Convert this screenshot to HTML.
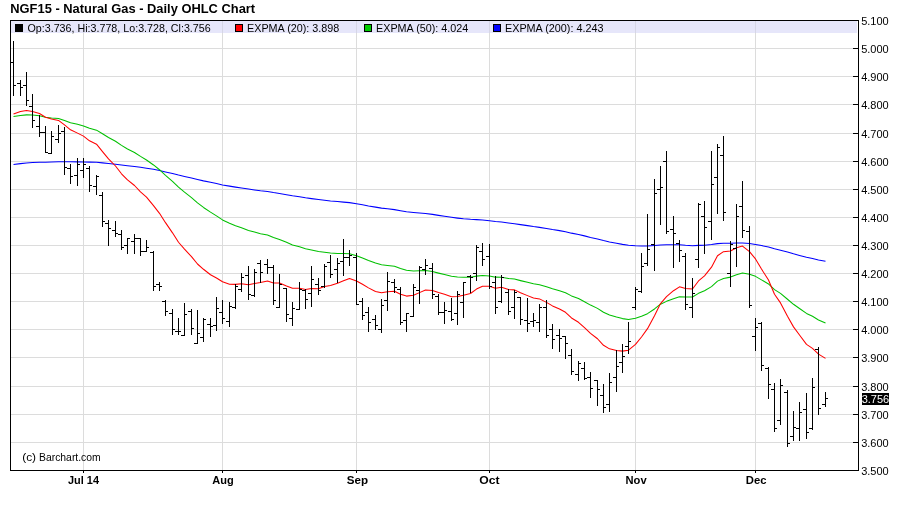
<!DOCTYPE html>
<html><head><meta charset="utf-8"><title>NGF15 - Natural Gas - Daily OHLC Chart</title>
<style>html,body{margin:0;padding:0;background:#fff;}svg{display:block;will-change:transform;}text{font-family:"Liberation Sans",sans-serif;}</style>
</head><body>
<svg width="900" height="511" viewBox="0 0 900 511">
<rect x="0" y="0" width="900" height="511" fill="#ffffff"/>
<g shape-rendering="crispEdges">
<rect x="11" y="21" width="846" height="12" fill="#e6e6fa"/>
<rect x="11" y="48" width="847" height="1" fill="#dcdcdc"/>
<rect x="11" y="76" width="847" height="1" fill="#dcdcdc"/>
<rect x="11" y="104" width="847" height="1" fill="#dcdcdc"/>
<rect x="11" y="133" width="847" height="1" fill="#dcdcdc"/>
<rect x="11" y="161" width="847" height="1" fill="#dcdcdc"/>
<rect x="11" y="189" width="847" height="1" fill="#dcdcdc"/>
<rect x="11" y="217" width="847" height="1" fill="#dcdcdc"/>
<rect x="11" y="245" width="847" height="1" fill="#dcdcdc"/>
<rect x="11" y="273" width="847" height="1" fill="#dcdcdc"/>
<rect x="11" y="301" width="847" height="1" fill="#dcdcdc"/>
<rect x="11" y="329" width="847" height="1" fill="#dcdcdc"/>
<rect x="11" y="357" width="847" height="1" fill="#dcdcdc"/>
<rect x="11" y="386" width="847" height="1" fill="#dcdcdc"/>
<rect x="11" y="414" width="847" height="1" fill="#dcdcdc"/>
<rect x="11" y="442" width="847" height="1" fill="#dcdcdc"/>
<rect x="83" y="33" width="1" height="437" fill="#dcdcdc"/>
<rect x="83" y="21" width="1" height="12" fill="#d6d6e6"/>
<rect x="222" y="33" width="1" height="437" fill="#dcdcdc"/>
<rect x="222" y="21" width="1" height="12" fill="#d6d6e6"/>
<rect x="356" y="33" width="1" height="437" fill="#dcdcdc"/>
<rect x="356" y="21" width="1" height="12" fill="#d6d6e6"/>
<rect x="489" y="33" width="1" height="437" fill="#dcdcdc"/>
<rect x="489" y="21" width="1" height="12" fill="#d6d6e6"/>
<rect x="635" y="33" width="1" height="437" fill="#dcdcdc"/>
<rect x="635" y="21" width="1" height="12" fill="#d6d6e6"/>
<rect x="755" y="33" width="1" height="437" fill="#dcdcdc"/>
<rect x="755" y="21" width="1" height="12" fill="#d6d6e6"/>
<rect x="10" y="20" width="849" height="1" fill="#000"/>
<rect x="10" y="470" width="849" height="1" fill="#000"/>
<rect x="10" y="20" width="1" height="451" fill="#000"/>
<rect x="858" y="20" width="1" height="451" fill="#000"/>
<rect x="853" y="48" width="5" height="1" fill="#000"/>
<rect x="853" y="76" width="5" height="1" fill="#000"/>
<rect x="853" y="104" width="5" height="1" fill="#000"/>
<rect x="853" y="133" width="5" height="1" fill="#000"/>
<rect x="853" y="161" width="5" height="1" fill="#000"/>
<rect x="853" y="189" width="5" height="1" fill="#000"/>
<rect x="853" y="217" width="5" height="1" fill="#000"/>
<rect x="853" y="245" width="5" height="1" fill="#000"/>
<rect x="853" y="273" width="5" height="1" fill="#000"/>
<rect x="853" y="301" width="5" height="1" fill="#000"/>
<rect x="853" y="329" width="5" height="1" fill="#000"/>
<rect x="853" y="357" width="5" height="1" fill="#000"/>
<rect x="853" y="386" width="5" height="1" fill="#000"/>
<rect x="853" y="414" width="5" height="1" fill="#000"/>
<rect x="853" y="442" width="5" height="1" fill="#000"/>
<rect x="83" y="471" width="1" height="2" fill="#000"/>
<rect x="222" y="471" width="1" height="2" fill="#000"/>
<rect x="356" y="471" width="1" height="2" fill="#000"/>
<rect x="489" y="471" width="1" height="2" fill="#000"/>
<rect x="635" y="471" width="1" height="2" fill="#000"/>
<rect x="755" y="471" width="1" height="2" fill="#000"/>
</g>
<path d="M13.5,164.40 L20.5,163.63 L26.5,163.01 L32.5,162.58 L39.5,162.28 L45.5,162.19 L51.5,161.93 L58.5,161.65 L64.5,161.71 L70.5,161.85 L77.5,161.88 L83.5,161.91 L89.5,162.14 L96.5,162.28 L102.5,162.87 L108.5,163.53 L115.5,164.22 L121.5,165.05 L127.5,165.78 L134.5,166.51 L140.5,167.35 L146.5,168.15 L153.5,169.33 L159.5,170.49 L165.5,171.90 L172.5,173.46 L178.5,175.04 L184.5,176.42 L191.5,177.94 L197.5,179.48 L203.5,180.88 L210.5,182.33 L216.5,183.58 L222.5,184.92 L229.5,186.13 L235.5,187.13 L241.5,188.03 L248.5,189.09 L254.5,189.92 L260.5,190.74 L267.5,191.51 L273.5,192.59 L279.5,193.51 L286.5,194.71 L292.5,195.84 L299.5,196.77 L305.5,197.80 L311.5,198.61 L318.5,199.52 L324.5,200.19 L330.5,200.93 L337.5,201.55 L343.5,202.11 L349.5,202.64 L356.5,203.65 L362.5,204.77 L368.5,205.94 L375.5,207.13 L381.5,208.11 L387.5,208.84 L394.5,209.62 L400.5,210.74 L406.5,211.77 L413.5,212.52 L419.5,213.07 L425.5,213.59 L432.5,214.39 L438.5,215.37 L444.5,216.32 L451.5,217.34 L457.5,218.11 L463.5,218.75 L470.5,219.34 L476.5,219.62 L482.5,220.01 L489.5,220.67 L495.5,221.54 L501.5,222.09 L508.5,222.98 L514.5,223.68 L520.5,224.63 L527.5,225.61 L533.5,226.56 L539.5,227.36 L546.5,228.44 L552.5,229.54 L559.5,230.63 L565.5,231.75 L571.5,233.14 L578.5,234.44 L584.5,235.87 L590.5,237.39 L597.5,238.90 L603.5,240.58 L609.5,241.99 L616.5,243.23 L622.5,244.36 L628.5,245.33 L635.5,245.77 L641.5,245.97 L647.5,246.01 L654.5,245.48 L660.5,244.91 L666.5,244.77 L673.5,244.66 L679.5,244.72 L685.5,245.32 L692.5,245.79 L698.5,245.38 L704.5,245.21 L711.5,244.60 L717.5,243.64 L723.5,243.33 L730.5,243.34 L736.5,243.07 L742.5,242.95 L749.5,243.57 L755.5,244.40 L761.5,245.61 L768.5,246.99 L774.5,248.80 L780.5,250.16 L787.5,252.08 L793.5,253.83 L799.5,255.40 L806.5,257.17 L812.5,258.46 L818.5,259.96 L825.5,261.33" fill="none" stroke="#0000ff" stroke-width="1.05" stroke-linejoin="round"/>
<path d="M13.5,116.60 L20.5,115.46 L26.5,114.87 L32.5,115.09 L39.5,115.78 L45.5,117.22 L51.5,117.97 L58.5,118.58 L64.5,120.50 L70.5,122.70 L77.5,124.33 L83.5,125.91 L89.5,128.25 L96.5,130.14 L102.5,133.72 L108.5,137.44 L115.5,141.21 L121.5,145.37 L127.5,149.03 L134.5,152.53 L140.5,156.42 L146.5,159.99 L153.5,164.95 L159.5,169.72 L165.5,175.28 L172.5,181.32 L178.5,187.21 L184.5,192.20 L191.5,197.55 L197.5,202.88 L203.5,207.45 L210.5,212.12 L216.5,215.90 L222.5,219.93 L229.5,223.32 L235.5,225.80 L241.5,227.83 L248.5,230.44 L254.5,232.09 L260.5,233.67 L267.5,235.00 L273.5,237.57 L279.5,239.41 L286.5,242.35 L292.5,244.95 L299.5,246.70 L305.5,248.77 L311.5,249.97 L318.5,251.56 L324.5,252.15 L330.5,253.02 L337.5,253.43 L343.5,253.59 L349.5,253.67 L356.5,255.66 L362.5,258.01 L368.5,260.54 L375.5,263.09 L381.5,264.75 L387.5,265.41 L394.5,266.27 L400.5,268.48 L406.5,270.24 L413.5,270.92 L419.5,270.79 L425.5,270.58 L432.5,271.52 L438.5,273.12 L444.5,274.59 L451.5,276.35 L457.5,277.06 L463.5,277.28 L470.5,277.28 L476.5,276.12 L482.5,275.46 L489.5,275.90 L495.5,277.14 L501.5,277.15 L508.5,278.50 L514.5,279.05 L520.5,280.63 L527.5,282.31 L533.5,283.81 L539.5,284.74 L546.5,286.73 L552.5,288.80 L559.5,290.75 L565.5,292.82 L571.5,295.90 L578.5,298.55 L584.5,301.69 L590.5,305.09 L597.5,308.40 L603.5,312.29 L609.5,315.04 L616.5,317.06 L622.5,318.61 L628.5,319.51 L635.5,318.33 L641.5,316.30 L647.5,313.68 L654.5,308.96 L660.5,304.20 L666.5,301.35 L673.5,298.69 L679.5,296.80 L685.5,297.10 L692.5,296.96 L698.5,293.33 L704.5,290.75 L711.5,286.59 L717.5,281.13 L723.5,278.44 L730.5,277.11 L736.5,274.73 L742.5,273.00 L749.5,274.27 L755.5,276.36 L761.5,279.86 L768.5,283.96 L774.5,289.63 L780.5,293.39 L787.5,299.27 L793.5,304.30 L799.5,308.55 L806.5,313.41 L812.5,316.31 L818.5,319.93 L825.5,323.01" fill="none" stroke="#00c000" stroke-width="1.05" stroke-linejoin="round"/>
<path d="M13.5,114.10 L20.5,111.57 L26.5,110.51 L32.5,111.46 L39.5,113.47 L45.5,117.18 L51.5,119.02 L58.5,120.40 L64.5,124.89 L70.5,129.80 L77.5,133.11 L83.5,136.10 L89.5,140.80 L96.5,144.20 L102.5,151.56 L108.5,158.89 L115.5,166.00 L121.5,173.76 L127.5,179.92 L134.5,185.50 L140.5,191.79 L146.5,197.09 L153.5,205.61 L159.5,213.31 L165.5,222.66 L172.5,232.84 L178.5,242.24 L184.5,249.12 L191.5,256.68 L197.5,263.99 L203.5,269.28 L210.5,274.73 L216.5,277.95 L222.5,281.81 L229.5,284.16 L235.5,284.38 L241.5,283.73 L248.5,284.75 L254.5,283.59 L260.5,282.53 L267.5,281.10 L273.5,282.95 L279.5,283.09 L286.5,286.09 L292.5,288.22 L299.5,288.34 L305.5,289.40 L311.5,288.46 L318.5,288.66 L324.5,286.55 L330.5,285.40 L337.5,283.31 L343.5,280.85 L349.5,278.44 L356.5,280.92 L362.5,284.21 L368.5,287.86 L375.5,291.45 L381.5,292.78 L387.5,291.71 L394.5,291.31 L400.5,294.28 L406.5,296.11 L413.5,295.29 L419.5,292.64 L425.5,290.06 L432.5,290.48 L438.5,292.58 L444.5,294.29 L451.5,296.69 L457.5,296.48 L463.5,295.15 L470.5,293.47 L476.5,289.09 L482.5,286.27 L489.5,286.29 L495.5,288.31 L501.5,287.28 L508.5,289.59 L514.5,289.87 L520.5,292.69 L527.5,295.62 L533.5,297.99 L539.5,298.90 L546.5,302.38 L552.5,305.92 L559.5,309.02 L565.5,312.31 L571.5,317.94 L578.5,322.28 L584.5,327.64 L590.5,333.43 L597.5,338.77 L603.5,345.32 L609.5,348.86 L616.5,350.54 L622.5,351.11 L628.5,350.19 L635.5,344.41 L641.5,336.99 L647.5,328.66 L654.5,315.79 L660.5,303.57 L666.5,296.71 L673.5,290.69 L679.5,286.86 L685.5,288.54 L692.5,289.01 L698.5,280.96 L704.5,275.87 L711.5,267.17 L717.5,255.77 L723.5,251.65 L730.5,250.97 L736.5,247.69 L742.5,246.05 L749.5,251.71 L755.5,258.93 L761.5,269.08 L768.5,280.07 L774.5,294.21 L780.5,302.90 L787.5,316.29 L793.5,326.88 L799.5,335.04 L806.5,344.32 L812.5,348.43 L818.5,354.15 L825.5,358.38" fill="none" stroke="#ff0000" stroke-width="1.05" stroke-linejoin="round"/>
<g shape-rendering="crispEdges">
<rect x="13" y="41" width="1" height="55" fill="#000"/>
<rect x="10" y="62" width="3" height="1" fill="#000"/>
<rect x="14" y="85" width="2" height="1" fill="#000"/>
<rect x="20" y="80" width="1" height="16" fill="#000"/>
<rect x="17" y="83" width="3" height="1" fill="#000"/>
<rect x="21" y="87" width="2" height="1" fill="#000"/>
<rect x="26" y="72" width="1" height="34" fill="#000"/>
<rect x="23" y="85" width="3" height="1" fill="#000"/>
<rect x="27" y="100" width="2" height="1" fill="#000"/>
<rect x="32" y="94" width="1" height="34" fill="#000"/>
<rect x="29" y="106" width="3" height="1" fill="#000"/>
<rect x="33" y="120" width="2" height="1" fill="#000"/>
<rect x="39" y="115" width="1" height="22" fill="#000"/>
<rect x="36" y="126" width="3" height="1" fill="#000"/>
<rect x="40" y="132" width="2" height="1" fill="#000"/>
<rect x="45" y="126" width="1" height="27" fill="#000"/>
<rect x="42" y="132" width="3" height="1" fill="#000"/>
<rect x="46" y="152" width="2" height="1" fill="#000"/>
<rect x="51" y="131" width="1" height="23" fill="#000"/>
<rect x="48" y="153" width="3" height="1" fill="#000"/>
<rect x="52" y="136" width="2" height="1" fill="#000"/>
<rect x="58" y="125" width="1" height="18" fill="#000"/>
<rect x="55" y="139" width="3" height="1" fill="#000"/>
<rect x="59" y="133" width="2" height="1" fill="#000"/>
<rect x="64" y="127" width="1" height="48" fill="#000"/>
<rect x="61" y="131" width="3" height="1" fill="#000"/>
<rect x="65" y="167" width="2" height="1" fill="#000"/>
<rect x="70" y="164" width="1" height="20" fill="#000"/>
<rect x="67" y="168" width="3" height="1" fill="#000"/>
<rect x="71" y="176" width="2" height="1" fill="#000"/>
<rect x="77" y="158" width="1" height="28" fill="#000"/>
<rect x="74" y="175" width="3" height="1" fill="#000"/>
<rect x="78" y="164" width="2" height="1" fill="#000"/>
<rect x="83" y="158" width="1" height="20" fill="#000"/>
<rect x="80" y="170" width="3" height="1" fill="#000"/>
<rect x="84" y="164" width="2" height="1" fill="#000"/>
<rect x="89" y="166" width="1" height="26" fill="#000"/>
<rect x="86" y="168" width="3" height="1" fill="#000"/>
<rect x="90" y="185" width="2" height="1" fill="#000"/>
<rect x="96" y="175" width="1" height="20" fill="#000"/>
<rect x="93" y="186" width="3" height="1" fill="#000"/>
<rect x="97" y="176" width="2" height="1" fill="#000"/>
<rect x="102" y="192" width="1" height="35" fill="#000"/>
<rect x="99" y="195" width="3" height="1" fill="#000"/>
<rect x="103" y="221" width="2" height="1" fill="#000"/>
<rect x="108" y="220" width="1" height="26" fill="#000"/>
<rect x="105" y="223" width="3" height="1" fill="#000"/>
<rect x="109" y="228" width="2" height="1" fill="#000"/>
<rect x="115" y="221" width="1" height="16" fill="#000"/>
<rect x="112" y="230" width="3" height="1" fill="#000"/>
<rect x="116" y="233" width="2" height="1" fill="#000"/>
<rect x="121" y="230" width="1" height="20" fill="#000"/>
<rect x="118" y="234" width="3" height="1" fill="#000"/>
<rect x="122" y="247" width="2" height="1" fill="#000"/>
<rect x="127" y="238" width="1" height="16" fill="#000"/>
<rect x="124" y="245" width="3" height="1" fill="#000"/>
<rect x="128" y="238" width="2" height="1" fill="#000"/>
<rect x="134" y="234" width="1" height="20" fill="#000"/>
<rect x="131" y="241" width="3" height="1" fill="#000"/>
<rect x="135" y="238" width="2" height="1" fill="#000"/>
<rect x="140" y="238" width="1" height="18" fill="#000"/>
<rect x="137" y="238" width="3" height="1" fill="#000"/>
<rect x="141" y="251" width="2" height="1" fill="#000"/>
<rect x="146" y="240" width="1" height="12" fill="#000"/>
<rect x="143" y="251" width="3" height="1" fill="#000"/>
<rect x="147" y="247" width="2" height="1" fill="#000"/>
<rect x="153" y="251" width="1" height="40" fill="#000"/>
<rect x="150" y="252" width="3" height="1" fill="#000"/>
<rect x="154" y="286" width="2" height="1" fill="#000"/>
<rect x="159" y="282" width="1" height="9" fill="#000"/>
<rect x="156" y="284" width="3" height="1" fill="#000"/>
<rect x="160" y="286" width="2" height="1" fill="#000"/>
<rect x="165" y="300" width="1" height="16" fill="#000"/>
<rect x="162" y="301" width="3" height="1" fill="#000"/>
<rect x="166" y="311" width="2" height="1" fill="#000"/>
<rect x="172" y="309" width="1" height="26" fill="#000"/>
<rect x="169" y="313" width="3" height="1" fill="#000"/>
<rect x="173" y="329" width="2" height="1" fill="#000"/>
<rect x="178" y="318" width="1" height="17" fill="#000"/>
<rect x="175" y="331" width="3" height="1" fill="#000"/>
<rect x="179" y="331" width="2" height="1" fill="#000"/>
<rect x="184" y="303" width="1" height="33" fill="#000"/>
<rect x="181" y="335" width="3" height="1" fill="#000"/>
<rect x="185" y="314" width="2" height="1" fill="#000"/>
<rect x="191" y="309" width="1" height="26" fill="#000"/>
<rect x="188" y="311" width="3" height="1" fill="#000"/>
<rect x="192" y="328" width="2" height="1" fill="#000"/>
<rect x="197" y="310" width="1" height="34" fill="#000"/>
<rect x="194" y="343" width="3" height="1" fill="#000"/>
<rect x="198" y="333" width="2" height="1" fill="#000"/>
<rect x="203" y="318" width="1" height="24" fill="#000"/>
<rect x="200" y="337" width="3" height="1" fill="#000"/>
<rect x="204" y="319" width="2" height="1" fill="#000"/>
<rect x="210" y="318" width="1" height="19" fill="#000"/>
<rect x="207" y="324" width="3" height="1" fill="#000"/>
<rect x="211" y="326" width="2" height="1" fill="#000"/>
<rect x="216" y="297" width="1" height="34" fill="#000"/>
<rect x="213" y="325" width="3" height="1" fill="#000"/>
<rect x="217" y="308" width="2" height="1" fill="#000"/>
<rect x="222" y="300" width="1" height="24" fill="#000"/>
<rect x="219" y="312" width="3" height="1" fill="#000"/>
<rect x="223" y="318" width="2" height="1" fill="#000"/>
<rect x="229" y="302" width="1" height="25" fill="#000"/>
<rect x="226" y="321" width="3" height="1" fill="#000"/>
<rect x="230" y="306" width="2" height="1" fill="#000"/>
<rect x="235" y="284" width="1" height="25" fill="#000"/>
<rect x="232" y="307" width="3" height="1" fill="#000"/>
<rect x="236" y="286" width="2" height="1" fill="#000"/>
<rect x="241" y="273" width="1" height="19" fill="#000"/>
<rect x="238" y="289" width="3" height="1" fill="#000"/>
<rect x="242" y="277" width="2" height="1" fill="#000"/>
<rect x="248" y="266" width="1" height="34" fill="#000"/>
<rect x="245" y="275" width="3" height="1" fill="#000"/>
<rect x="249" y="294" width="2" height="1" fill="#000"/>
<rect x="254" y="269" width="1" height="28" fill="#000"/>
<rect x="251" y="295" width="3" height="1" fill="#000"/>
<rect x="255" y="272" width="2" height="1" fill="#000"/>
<rect x="260" y="260" width="1" height="23" fill="#000"/>
<rect x="257" y="263" width="3" height="1" fill="#000"/>
<rect x="261" y="272" width="2" height="1" fill="#000"/>
<rect x="267" y="259" width="1" height="15" fill="#000"/>
<rect x="264" y="264" width="3" height="1" fill="#000"/>
<rect x="268" y="267" width="2" height="1" fill="#000"/>
<rect x="273" y="265" width="1" height="40" fill="#000"/>
<rect x="270" y="267" width="3" height="1" fill="#000"/>
<rect x="274" y="300" width="2" height="1" fill="#000"/>
<rect x="279" y="274" width="1" height="34" fill="#000"/>
<rect x="276" y="307" width="3" height="1" fill="#000"/>
<rect x="280" y="284" width="2" height="1" fill="#000"/>
<rect x="286" y="288" width="1" height="34" fill="#000"/>
<rect x="283" y="288" width="3" height="1" fill="#000"/>
<rect x="287" y="314" width="2" height="1" fill="#000"/>
<rect x="292" y="302" width="1" height="24" fill="#000"/>
<rect x="289" y="318" width="3" height="1" fill="#000"/>
<rect x="293" y="308" width="2" height="1" fill="#000"/>
<rect x="299" y="282" width="1" height="28" fill="#000"/>
<rect x="296" y="309" width="3" height="1" fill="#000"/>
<rect x="300" y="289" width="2" height="1" fill="#000"/>
<rect x="305" y="289" width="1" height="20" fill="#000"/>
<rect x="302" y="290" width="3" height="1" fill="#000"/>
<rect x="306" y="299" width="2" height="1" fill="#000"/>
<rect x="311" y="266" width="1" height="41" fill="#000"/>
<rect x="308" y="293" width="3" height="1" fill="#000"/>
<rect x="312" y="279" width="2" height="1" fill="#000"/>
<rect x="318" y="278" width="1" height="17" fill="#000"/>
<rect x="315" y="284" width="3" height="1" fill="#000"/>
<rect x="319" y="290" width="2" height="1" fill="#000"/>
<rect x="324" y="264" width="1" height="24" fill="#000"/>
<rect x="321" y="286" width="3" height="1" fill="#000"/>
<rect x="325" y="266" width="2" height="1" fill="#000"/>
<rect x="330" y="255" width="1" height="23" fill="#000"/>
<rect x="327" y="262" width="3" height="1" fill="#000"/>
<rect x="331" y="274" width="2" height="1" fill="#000"/>
<rect x="337" y="258" width="1" height="25" fill="#000"/>
<rect x="334" y="269" width="3" height="1" fill="#000"/>
<rect x="338" y="263" width="2" height="1" fill="#000"/>
<rect x="343" y="239" width="1" height="37" fill="#000"/>
<rect x="340" y="261" width="3" height="1" fill="#000"/>
<rect x="344" y="257" width="2" height="1" fill="#000"/>
<rect x="349" y="250" width="1" height="16" fill="#000"/>
<rect x="346" y="257" width="3" height="1" fill="#000"/>
<rect x="350" y="255" width="2" height="1" fill="#000"/>
<rect x="356" y="253" width="1" height="52" fill="#000"/>
<rect x="353" y="257" width="3" height="1" fill="#000"/>
<rect x="357" y="304" width="2" height="1" fill="#000"/>
<rect x="362" y="298" width="1" height="22" fill="#000"/>
<rect x="359" y="301" width="3" height="1" fill="#000"/>
<rect x="363" y="315" width="2" height="1" fill="#000"/>
<rect x="368" y="307" width="1" height="25" fill="#000"/>
<rect x="365" y="312" width="3" height="1" fill="#000"/>
<rect x="369" y="322" width="2" height="1" fill="#000"/>
<rect x="375" y="315" width="1" height="15" fill="#000"/>
<rect x="372" y="319" width="3" height="1" fill="#000"/>
<rect x="376" y="325" width="2" height="1" fill="#000"/>
<rect x="381" y="299" width="1" height="34" fill="#000"/>
<rect x="378" y="329" width="3" height="1" fill="#000"/>
<rect x="382" y="305" width="2" height="1" fill="#000"/>
<rect x="387" y="272" width="1" height="39" fill="#000"/>
<rect x="384" y="300" width="3" height="1" fill="#000"/>
<rect x="388" y="281" width="2" height="1" fill="#000"/>
<rect x="394" y="279" width="1" height="14" fill="#000"/>
<rect x="391" y="282" width="3" height="1" fill="#000"/>
<rect x="395" y="287" width="2" height="1" fill="#000"/>
<rect x="400" y="287" width="1" height="38" fill="#000"/>
<rect x="397" y="289" width="3" height="1" fill="#000"/>
<rect x="401" y="322" width="2" height="1" fill="#000"/>
<rect x="406" y="313" width="1" height="19" fill="#000"/>
<rect x="403" y="320" width="3" height="1" fill="#000"/>
<rect x="407" y="313" width="2" height="1" fill="#000"/>
<rect x="413" y="284" width="1" height="33" fill="#000"/>
<rect x="410" y="316" width="3" height="1" fill="#000"/>
<rect x="414" y="287" width="2" height="1" fill="#000"/>
<rect x="419" y="266" width="1" height="38" fill="#000"/>
<rect x="416" y="290" width="3" height="1" fill="#000"/>
<rect x="420" y="267" width="2" height="1" fill="#000"/>
<rect x="425" y="259" width="1" height="16" fill="#000"/>
<rect x="422" y="269" width="3" height="1" fill="#000"/>
<rect x="426" y="265" width="2" height="1" fill="#000"/>
<rect x="432" y="263" width="1" height="36" fill="#000"/>
<rect x="429" y="268" width="3" height="1" fill="#000"/>
<rect x="433" y="294" width="2" height="1" fill="#000"/>
<rect x="438" y="294" width="1" height="21" fill="#000"/>
<rect x="435" y="296" width="3" height="1" fill="#000"/>
<rect x="439" y="312" width="2" height="1" fill="#000"/>
<rect x="444" y="302" width="1" height="22" fill="#000"/>
<rect x="441" y="312" width="3" height="1" fill="#000"/>
<rect x="445" y="310" width="2" height="1" fill="#000"/>
<rect x="451" y="298" width="1" height="23" fill="#000"/>
<rect x="448" y="311" width="3" height="1" fill="#000"/>
<rect x="452" y="319" width="2" height="1" fill="#000"/>
<rect x="457" y="291" width="1" height="34" fill="#000"/>
<rect x="454" y="313" width="3" height="1" fill="#000"/>
<rect x="458" y="294" width="2" height="1" fill="#000"/>
<rect x="463" y="282" width="1" height="36" fill="#000"/>
<rect x="460" y="302" width="3" height="1" fill="#000"/>
<rect x="464" y="282" width="2" height="1" fill="#000"/>
<rect x="470" y="275" width="1" height="18" fill="#000"/>
<rect x="467" y="276" width="3" height="1" fill="#000"/>
<rect x="471" y="277" width="2" height="1" fill="#000"/>
<rect x="476" y="245" width="1" height="36" fill="#000"/>
<rect x="473" y="273" width="3" height="1" fill="#000"/>
<rect x="477" y="247" width="2" height="1" fill="#000"/>
<rect x="482" y="243" width="1" height="23" fill="#000"/>
<rect x="479" y="251" width="3" height="1" fill="#000"/>
<rect x="483" y="259" width="2" height="1" fill="#000"/>
<rect x="489" y="244" width="1" height="45" fill="#000"/>
<rect x="486" y="256" width="3" height="1" fill="#000"/>
<rect x="490" y="286" width="2" height="1" fill="#000"/>
<rect x="495" y="276" width="1" height="38" fill="#000"/>
<rect x="492" y="282" width="3" height="1" fill="#000"/>
<rect x="496" y="307" width="2" height="1" fill="#000"/>
<rect x="501" y="275" width="1" height="28" fill="#000"/>
<rect x="498" y="301" width="3" height="1" fill="#000"/>
<rect x="502" y="277" width="2" height="1" fill="#000"/>
<rect x="508" y="289" width="1" height="26" fill="#000"/>
<rect x="505" y="292" width="3" height="1" fill="#000"/>
<rect x="509" y="311" width="2" height="1" fill="#000"/>
<rect x="514" y="290" width="1" height="29" fill="#000"/>
<rect x="511" y="307" width="3" height="1" fill="#000"/>
<rect x="515" y="292" width="2" height="1" fill="#000"/>
<rect x="520" y="297" width="1" height="28" fill="#000"/>
<rect x="517" y="297" width="3" height="1" fill="#000"/>
<rect x="521" y="319" width="2" height="1" fill="#000"/>
<rect x="527" y="298" width="1" height="34" fill="#000"/>
<rect x="524" y="320" width="3" height="1" fill="#000"/>
<rect x="528" y="323" width="2" height="1" fill="#000"/>
<rect x="533" y="313" width="1" height="14" fill="#000"/>
<rect x="530" y="321" width="3" height="1" fill="#000"/>
<rect x="534" y="320" width="2" height="1" fill="#000"/>
<rect x="539" y="304" width="1" height="28" fill="#000"/>
<rect x="536" y="322" width="3" height="1" fill="#000"/>
<rect x="540" y="307" width="2" height="1" fill="#000"/>
<rect x="546" y="300" width="1" height="38" fill="#000"/>
<rect x="543" y="307" width="3" height="1" fill="#000"/>
<rect x="547" y="335" width="2" height="1" fill="#000"/>
<rect x="552" y="324" width="1" height="25" fill="#000"/>
<rect x="549" y="329" width="3" height="1" fill="#000"/>
<rect x="553" y="339" width="2" height="1" fill="#000"/>
<rect x="559" y="329" width="1" height="23" fill="#000"/>
<rect x="556" y="335" width="3" height="1" fill="#000"/>
<rect x="560" y="338" width="2" height="1" fill="#000"/>
<rect x="565" y="336" width="1" height="23" fill="#000"/>
<rect x="562" y="336" width="3" height="1" fill="#000"/>
<rect x="566" y="343" width="2" height="1" fill="#000"/>
<rect x="571" y="349" width="1" height="26" fill="#000"/>
<rect x="568" y="355" width="3" height="1" fill="#000"/>
<rect x="572" y="371" width="2" height="1" fill="#000"/>
<rect x="578" y="361" width="1" height="20" fill="#000"/>
<rect x="575" y="374" width="3" height="1" fill="#000"/>
<rect x="579" y="363" width="2" height="1" fill="#000"/>
<rect x="584" y="362" width="1" height="18" fill="#000"/>
<rect x="581" y="368" width="3" height="1" fill="#000"/>
<rect x="585" y="378" width="2" height="1" fill="#000"/>
<rect x="590" y="372" width="1" height="26" fill="#000"/>
<rect x="587" y="377" width="3" height="1" fill="#000"/>
<rect x="591" y="388" width="2" height="1" fill="#000"/>
<rect x="597" y="380" width="1" height="26" fill="#000"/>
<rect x="594" y="380" width="3" height="1" fill="#000"/>
<rect x="598" y="389" width="2" height="1" fill="#000"/>
<rect x="603" y="384" width="1" height="29" fill="#000"/>
<rect x="600" y="395" width="3" height="1" fill="#000"/>
<rect x="604" y="407" width="2" height="1" fill="#000"/>
<rect x="609" y="373" width="1" height="39" fill="#000"/>
<rect x="606" y="404" width="3" height="1" fill="#000"/>
<rect x="610" y="382" width="2" height="1" fill="#000"/>
<rect x="616" y="350" width="1" height="42" fill="#000"/>
<rect x="613" y="377" width="3" height="1" fill="#000"/>
<rect x="617" y="366" width="2" height="1" fill="#000"/>
<rect x="622" y="344" width="1" height="29" fill="#000"/>
<rect x="619" y="362" width="3" height="1" fill="#000"/>
<rect x="623" y="356" width="2" height="1" fill="#000"/>
<rect x="628" y="322" width="1" height="32" fill="#000"/>
<rect x="625" y="346" width="3" height="1" fill="#000"/>
<rect x="629" y="341" width="2" height="1" fill="#000"/>
<rect x="635" y="287" width="1" height="23" fill="#000"/>
<rect x="632" y="307" width="3" height="1" fill="#000"/>
<rect x="636" y="289" width="2" height="1" fill="#000"/>
<rect x="641" y="253" width="1" height="40" fill="#000"/>
<rect x="638" y="291" width="3" height="1" fill="#000"/>
<rect x="642" y="266" width="2" height="1" fill="#000"/>
<rect x="647" y="214" width="1" height="52" fill="#000"/>
<rect x="644" y="263" width="3" height="1" fill="#000"/>
<rect x="648" y="249" width="2" height="1" fill="#000"/>
<rect x="654" y="179" width="1" height="92" fill="#000"/>
<rect x="651" y="244" width="3" height="1" fill="#000"/>
<rect x="655" y="193" width="2" height="1" fill="#000"/>
<rect x="660" y="166" width="1" height="59" fill="#000"/>
<rect x="657" y="189" width="3" height="1" fill="#000"/>
<rect x="661" y="187" width="2" height="1" fill="#000"/>
<rect x="666" y="151" width="1" height="83" fill="#000"/>
<rect x="663" y="161" width="3" height="1" fill="#000"/>
<rect x="667" y="231" width="2" height="1" fill="#000"/>
<rect x="673" y="216" width="1" height="52" fill="#000"/>
<rect x="670" y="229" width="3" height="1" fill="#000"/>
<rect x="674" y="233" width="2" height="1" fill="#000"/>
<rect x="679" y="240" width="1" height="22" fill="#000"/>
<rect x="676" y="243" width="3" height="1" fill="#000"/>
<rect x="680" y="250" width="2" height="1" fill="#000"/>
<rect x="685" y="253" width="1" height="57" fill="#000"/>
<rect x="682" y="256" width="3" height="1" fill="#000"/>
<rect x="686" y="304" width="2" height="1" fill="#000"/>
<rect x="692" y="278" width="1" height="40" fill="#000"/>
<rect x="689" y="307" width="3" height="1" fill="#000"/>
<rect x="693" y="293" width="2" height="1" fill="#000"/>
<rect x="698" y="203" width="1" height="65" fill="#000"/>
<rect x="695" y="259" width="3" height="1" fill="#000"/>
<rect x="699" y="204" width="2" height="1" fill="#000"/>
<rect x="704" y="201" width="1" height="53" fill="#000"/>
<rect x="701" y="216" width="3" height="1" fill="#000"/>
<rect x="705" y="227" width="2" height="1" fill="#000"/>
<rect x="711" y="151" width="1" height="89" fill="#000"/>
<rect x="708" y="221" width="3" height="1" fill="#000"/>
<rect x="712" y="184" width="2" height="1" fill="#000"/>
<rect x="717" y="144" width="1" height="70" fill="#000"/>
<rect x="714" y="177" width="3" height="1" fill="#000"/>
<rect x="718" y="147" width="2" height="1" fill="#000"/>
<rect x="723" y="136" width="1" height="85" fill="#000"/>
<rect x="720" y="155" width="3" height="1" fill="#000"/>
<rect x="724" y="212" width="2" height="1" fill="#000"/>
<rect x="730" y="241" width="1" height="46" fill="#000"/>
<rect x="727" y="273" width="3" height="1" fill="#000"/>
<rect x="731" y="244" width="2" height="1" fill="#000"/>
<rect x="736" y="204" width="1" height="63" fill="#000"/>
<rect x="733" y="248" width="3" height="1" fill="#000"/>
<rect x="737" y="216" width="2" height="1" fill="#000"/>
<rect x="742" y="181" width="1" height="57" fill="#000"/>
<rect x="739" y="206" width="3" height="1" fill="#000"/>
<rect x="743" y="230" width="2" height="1" fill="#000"/>
<rect x="749" y="226" width="1" height="82" fill="#000"/>
<rect x="746" y="231" width="3" height="1" fill="#000"/>
<rect x="750" y="305" width="2" height="1" fill="#000"/>
<rect x="755" y="318" width="1" height="33" fill="#000"/>
<rect x="752" y="336" width="3" height="1" fill="#000"/>
<rect x="756" y="327" width="2" height="1" fill="#000"/>
<rect x="761" y="322" width="1" height="49" fill="#000"/>
<rect x="758" y="323" width="3" height="1" fill="#000"/>
<rect x="762" y="365" width="2" height="1" fill="#000"/>
<rect x="768" y="367" width="1" height="32" fill="#000"/>
<rect x="765" y="368" width="3" height="1" fill="#000"/>
<rect x="769" y="384" width="2" height="1" fill="#000"/>
<rect x="774" y="383" width="1" height="49" fill="#000"/>
<rect x="771" y="389" width="3" height="1" fill="#000"/>
<rect x="775" y="428" width="2" height="1" fill="#000"/>
<rect x="780" y="379" width="1" height="46" fill="#000"/>
<rect x="777" y="420" width="3" height="1" fill="#000"/>
<rect x="781" y="385" width="2" height="1" fill="#000"/>
<rect x="787" y="390" width="1" height="57" fill="#000"/>
<rect x="784" y="392" width="3" height="1" fill="#000"/>
<rect x="788" y="443" width="2" height="1" fill="#000"/>
<rect x="793" y="411" width="1" height="30" fill="#000"/>
<rect x="790" y="436" width="3" height="1" fill="#000"/>
<rect x="794" y="427" width="2" height="1" fill="#000"/>
<rect x="799" y="402" width="1" height="39" fill="#000"/>
<rect x="796" y="428" width="3" height="1" fill="#000"/>
<rect x="800" y="412" width="2" height="1" fill="#000"/>
<rect x="806" y="393" width="1" height="46" fill="#000"/>
<rect x="803" y="409" width="3" height="1" fill="#000"/>
<rect x="807" y="432" width="2" height="1" fill="#000"/>
<rect x="812" y="378" width="1" height="52" fill="#000"/>
<rect x="809" y="428" width="3" height="1" fill="#000"/>
<rect x="813" y="387" width="2" height="1" fill="#000"/>
<rect x="818" y="347" width="1" height="68" fill="#000"/>
<rect x="815" y="349" width="3" height="1" fill="#000"/>
<rect x="819" y="408" width="2" height="1" fill="#000"/>
<rect x="825" y="392" width="1" height="15" fill="#000"/>
<rect x="822" y="404" width="3" height="1" fill="#000"/>
<rect x="826" y="398" width="2" height="1" fill="#000"/>
</g>
<g shape-rendering="crispEdges">
<rect x="15" y="24" width="8" height="8" fill="#000"/>
<rect x="235" y="24" width="8" height="8" fill="#000"/>
<rect x="236" y="25" width="6" height="6" fill="#ff0000"/>
<rect x="364" y="24" width="8" height="8" fill="#000"/>
<rect x="365" y="25" width="6" height="6" fill="#00cc00"/>
<rect x="493" y="24" width="8" height="8" fill="#000"/>
<rect x="494" y="25" width="6" height="6" fill="#0000ff"/>
<rect x="862" y="393" width="27" height="12" fill="#000"/>
</g>
<text x="10.3" y="12.6" font-size="12" font-weight="bold" textLength="244.8" lengthAdjust="spacingAndGlyphs">NGF15 - Natural Gas - Daily OHLC Chart</text>
<text x="27.5" y="31.8" font-size="11" textLength="183.2" lengthAdjust="spacingAndGlyphs">Op:3.736, Hi:3.778, Lo:3.728, Cl:3.756</text>
<text x="247.0" y="31.8" font-size="11" textLength="92.3" lengthAdjust="spacingAndGlyphs">EXPMA (20): 3.898</text>
<text x="376.0" y="31.8" font-size="11" textLength="92.3" lengthAdjust="spacingAndGlyphs">EXPMA (50): 4.024</text>
<text x="505.0" y="31.8" font-size="11" textLength="98.5" lengthAdjust="spacingAndGlyphs">EXPMA (200): 4.243</text>
<text x="861.2" y="25" font-size="11">5.100</text>
<text x="861.2" y="53" font-size="11">5.000</text>
<text x="861.2" y="81" font-size="11">4.900</text>
<text x="861.2" y="109" font-size="11">4.800</text>
<text x="861.2" y="138" font-size="11">4.700</text>
<text x="861.2" y="166" font-size="11">4.600</text>
<text x="861.2" y="194" font-size="11">4.500</text>
<text x="861.2" y="222" font-size="11">4.400</text>
<text x="861.2" y="250" font-size="11">4.300</text>
<text x="861.2" y="278" font-size="11">4.200</text>
<text x="861.2" y="306" font-size="11">4.100</text>
<text x="861.2" y="334" font-size="11">4.000</text>
<text x="861.2" y="362" font-size="11">3.900</text>
<text x="861.2" y="391" font-size="11">3.800</text>
<text x="861.2" y="419" font-size="11">3.700</text>
<text x="861.2" y="447" font-size="11">3.600</text>
<text x="861.2" y="475" font-size="11">3.500</text>
<text x="861.7" y="403" font-size="11" fill="#fff">3.756</text>
<text y="460.6" font-size="10.5"><tspan x="22.2" textLength="13.9" lengthAdjust="spacingAndGlyphs">(c)</tspan> <tspan x="39.0" textLength="61.7" lengthAdjust="spacingAndGlyphs">Barchart.com</tspan></text>
<text x="68.0" y="483.7" font-size="10.5" font-weight="bold" textLength="31.0" lengthAdjust="spacingAndGlyphs">Jul 14</text>
<text x="212.3" y="483.7" font-size="10.5" font-weight="bold" textLength="21.4" lengthAdjust="spacingAndGlyphs">Aug</text>
<text x="346.8" y="483.7" font-size="10.5" font-weight="bold" textLength="21.3" lengthAdjust="spacingAndGlyphs">Sep</text>
<text x="479.2" y="483.7" font-size="10.5" font-weight="bold" textLength="20.3" lengthAdjust="spacingAndGlyphs">Oct</text>
<text x="625.5" y="483.7" font-size="10.5" font-weight="bold" textLength="21.1" lengthAdjust="spacingAndGlyphs">Nov</text>
<text x="745.8" y="483.7" font-size="10.5" font-weight="bold" textLength="20.7" lengthAdjust="spacingAndGlyphs">Dec</text>
</svg>
</body></html>
